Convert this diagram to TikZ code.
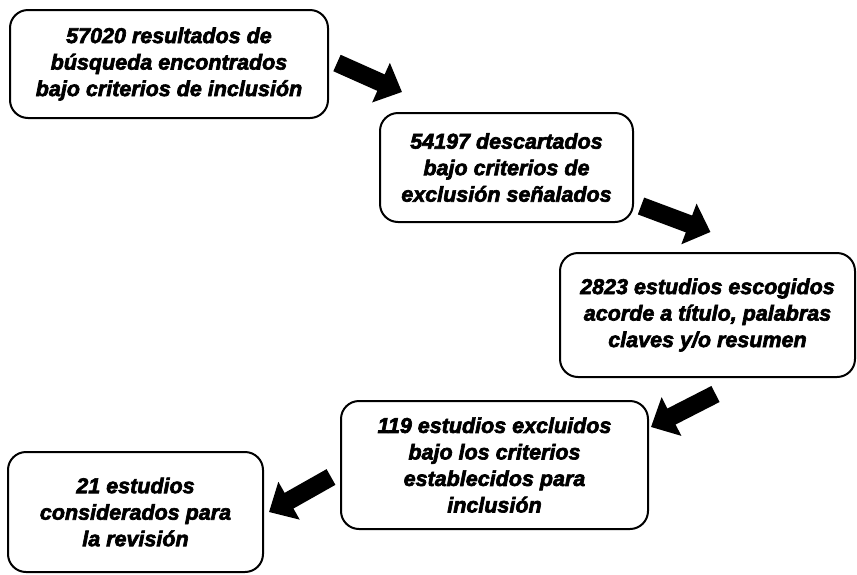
\documentclass[tikz,border=0pt]{standalone}
\usepackage{fontspec}
\setmainfont{Liberation Sans}[BoldItalicFeatures={FakeBold=3}]
\usetikzlibrary{arrows.meta}

\begin{document}
\begin{tikzpicture}[x=1pt,y=-1pt,
    paso/.style={draw,line width=2pt,rounded corners=18pt,align=center,inner sep=0pt,
        font=\fontsize{21.5}{26.5}\selectfont\bfseries\itshape},
    flecha/.style={line width=18pt,-{Triangle[length=23pt,width=42pt]}}]
    \useasboundingbox (0,0) rectangle (857,574);

    \node[paso,minimum width=318pt,minimum height=108pt] (encontrados) at (169,64)
        {57020 resultados de\\búsqueda encontrados\\bajo criterios de inclusión};

    \node[paso,minimum width=253pt,minimum height=109pt] (descartados) at (506.5,167.5)
        {54197 descartados\\bajo criterios de\\exclusión señalados};

    \node[paso,minimum width=295pt,minimum height=124pt] (escogidos) at (707.5,315)
        {2823 estudios escogidos\\acorde a título, palabras\\claves y/o resumen};

    \node[paso,minimum width=307pt,minimum height=128pt] (excluidos) at (494.5,465)
        {119 estudios excluidos\\bajo los criterios\\establecidos para\\inclusión};

    \node[paso,minimum width=255pt,minimum height=120pt] (considerados) at (135.5,512)
        {21 estudios\\considerados para\\la revisión};

    \draw[flecha] ([shift={(8,-1)}]encontrados.east) -- ([shift={(23,-20)}]descartados.north west);
    \draw[flecha] ([shift={(7,-17)}]descartados.south east) -- ([shift={(3,-20)}]escogidos.north);
    \draw[flecha] ([shift={(8,16)}]escogidos.south) -- ([shift={(2,27)}]excluidos.north east);
    \draw[flecha] ([shift={(-9,12)}]excluidos.west) -- ([shift={(5,0)}]considerados.east);

\end{tikzpicture}
\end{document}
